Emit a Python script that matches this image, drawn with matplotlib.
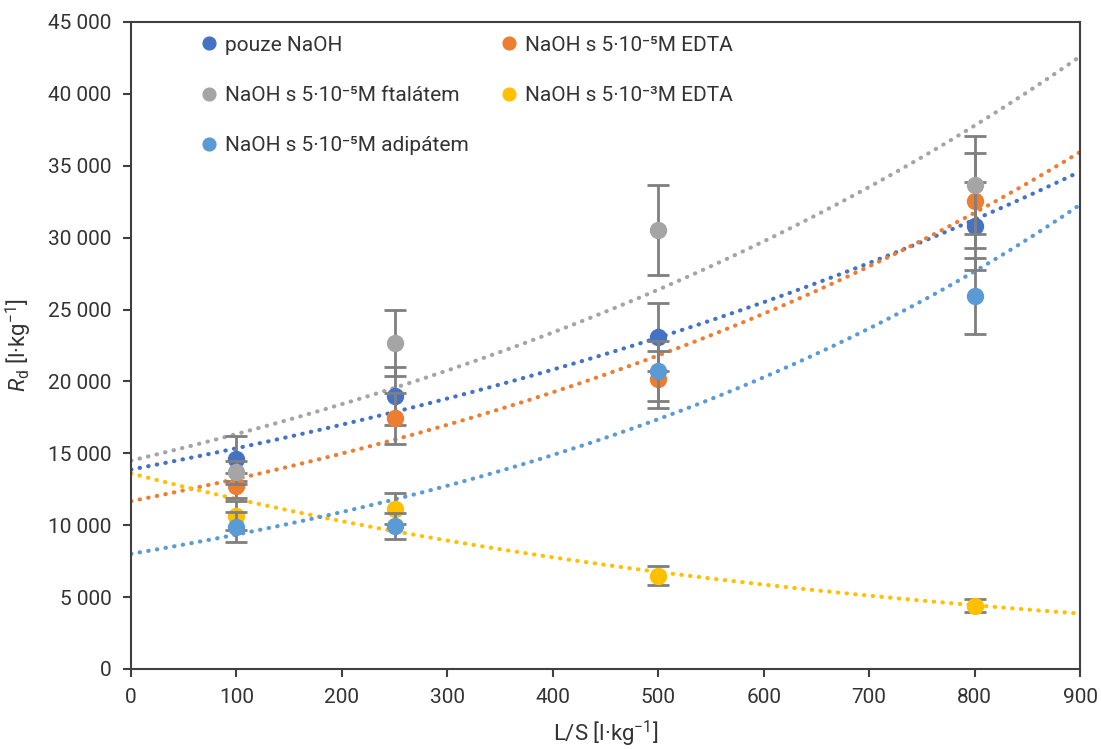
import numpy as np
import matplotlib
matplotlib.use("Agg")
import matplotlib.pyplot as plt
from matplotlib.ticker import FuncFormatter, MultipleLocator

# --- data -------------------------------------------------------------
ls_ratio = [100, 250, 500, 800]

labels = [
    "pouze NaOH",
    "NaOH s 5·10⁻⁵M EDTA",
    "NaOH s 5·10⁻⁵M ftalátem",
    "NaOH s 5·10⁻³M EDTA",
    "NaOH s 5·10⁻⁵M adipátem",
]
colors = ["#4472C4", "#ED7D31", "#A5A5A5", "#FFC000", "#5B9BD5"]

rd_naoh = [14640, 18970, 23100, 30820]
rd_edta5 = [12760, 17430, 20150, 32570]
rd_ftalat = [13670, 22660, 30540, 33680]
rd_edta3 = [10670, 11160, 6490, 4390]
rd_adipat = [9900, 9970, 20700, 25940]

err_naoh = [1540, 2000, 2350, 3070]
err_edta5 = [900, 1800, 2000, 3300]
err_ftalat = [800, 2300, 3130, 3400]
err_edta3 = [1000, 1100, 650, 450]
err_adipat = [1040, 900, 2080, 2650]

series = [rd_naoh, rd_edta5, rd_ftalat, rd_edta3, rd_adipat]
errors = [err_naoh, err_edta5, err_ftalat, err_edta3, err_adipat]

# --- fonts ------------------------------------------------------------
base = "Roboto"
plt.rcParams["font.family"] = [base, "DejaVu Sans"]
plt.rcParams["mathtext.fontset"] = "custom"
plt.rcParams["mathtext.rm"] = base
plt.rcParams["mathtext.it"] = base + ":italic"

text_color = "#333333"
axis_color = "#404040"

fig = plt.figure(figsize=(11.01, 7.49), dpi=100)
ax = fig.add_axes([131 / 1101, 1 - 669 / 749, (1080 - 131) / 1101, (669 - 22) / 749])

x = np.asarray(ls_ratio, dtype=float)
xfit = np.linspace(0, 900, 300)

# exponential trendlines (least squares on log values)
for vals, c in zip(series, colors):
    b, a = np.polyfit(x, np.log(vals), 1)
    ax.plot(xfit, np.exp(a) * np.exp(b * xfit), linestyle=(0, (0.1, 2.0)),
            dash_capstyle="round", color=c, lw=3.0, zorder=2)

handles = []
for i, (vals, err, c, lab) in enumerate(zip(series, errors, colors, labels)):
    ax.errorbar(x, vals, yerr=err, fmt="none", ecolor="#7F7F7F",
                elinewidth=2.0, capsize=8, capthick=2.0, zorder=3 + i)
    h, = ax.plot(x, vals, "o", ms=11.5, color=c, mec=c, label=lab, zorder=3.5 + i)
    handles.append(h)

ax.set_xlim(0, 900)
ax.set_ylim(0, 45000)
ax.xaxis.set_major_locator(MultipleLocator(100))
ax.yaxis.set_major_locator(MultipleLocator(5000))
ax.yaxis.set_major_formatter(FuncFormatter(lambda v, p: f"{int(v):,}".replace(",", " ")))

for s in ax.spines.values():
    s.set_color(axis_color)
    s.set_linewidth(1.5)
ax.tick_params(axis="both", direction="out", length=6, width=1.5, color=axis_color,
               labelsize=15, labelcolor=text_color)
ax.tick_params(axis="x", pad=8)
ax.tick_params(axis="y", pad=8)

ax.set_xlabel("L/S [l·kg$^{-1}$]", fontsize=16, color=text_color, labelpad=8)
ax.set_ylabel("$\\mathit{R}_{\\mathrm{d}}$ [l·kg$^{-1}$]", fontsize=16, color=text_color, labelpad=10)

order = [0, 2, 4, 1, 3]
leg = ax.legend([handles[k] for k in order], [labels[k] for k in order],
                ncol=2, loc="upper left", bbox_to_anchor=(0.056, 1.008),
                frameon=False, fontsize=15, handlelength=0.6, handletextpad=0.45,
                labelspacing=1.5, columnspacing=1.65, markerscale=0.8)
for t in leg.get_texts():
    t.set_color(text_color)

fig.savefig("out.png", dpi=100)
